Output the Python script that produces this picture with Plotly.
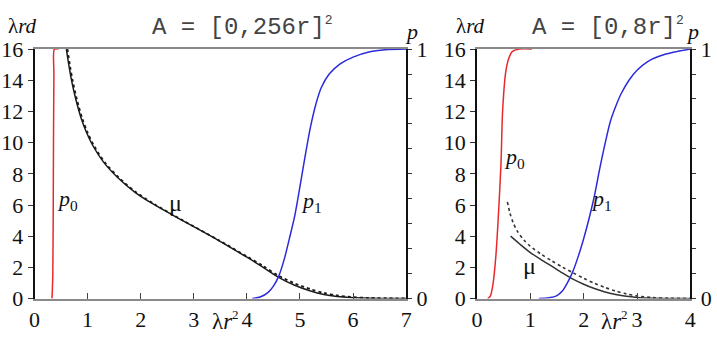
import plotly.graph_objects as go

# ---------------- data: left panel, A = [0,256r]^2 ----------------
L_p0_x = [0.33, 0.345, 0.355, 0.365, 0.375, 0.45]
L_p0_y = [0.0, 0.1, 0.5, 0.9, 1.0, 1.0]

L_p1_x = [4.1, 4.25, 4.4, 4.5, 4.6, 4.7, 4.8, 4.9, 5.0, 5.1, 5.2, 5.3, 5.4, 5.55, 5.75, 6.0, 6.3, 6.6, 7.0]
L_p1_y = [0.0, 0.006, 0.025, 0.05, 0.09, 0.155, 0.24, 0.33, 0.45, 0.575, 0.69, 0.78, 0.845, 0.9, 0.94, 0.968, 0.988, 0.997, 1.0]

L_mu_x = [0.60, 0.65, 0.70, 0.78, 0.88, 0.98, 1.1, 1.3, 1.57, 1.9, 2.24, 2.8, 3.47, 4.0, 4.3, 4.59, 4.9, 5.2, 5.45, 5.7, 5.95, 6.3, 7.0]
L_mu_y = [16.0, 14.9, 13.95, 12.75, 11.55, 10.65, 9.8, 8.75, 7.75, 6.8, 6.05, 4.98, 3.72, 2.65, 2.02, 1.38, 0.85, 0.48, 0.26, 0.13, 0.06, 0.02, 0.0]

L_mud_x = [0.62, 0.67, 0.72, 0.80, 0.90, 1.0, 1.12, 1.32, 1.59, 1.92, 2.26, 2.8, 3.47, 4.0, 4.3, 4.59, 4.9, 5.2, 5.45, 5.7, 5.95, 6.3, 7.0]
L_mud_y = [16.0, 14.9, 13.95, 12.75, 11.55, 10.65, 9.8, 8.75, 7.75, 6.8, 6.05, 5.0, 3.74, 2.7, 2.1, 1.48, 0.97, 0.6, 0.36, 0.2, 0.1, 0.04, 0.01]

# ---------------- data: right panel, A = [0,8r]^2 ----------------
R_p0_x = [0.2, 0.25, 0.3, 0.35, 0.39, 0.45, 0.48, 0.54, 0.6, 0.66, 0.79, 1.03]
R_p0_y = [0.0, 0.01, 0.058, 0.16, 0.29, 0.54, 0.75, 0.91, 0.965, 0.99, 1.0, 1.0]

R_p1_x = [1.16, 1.35, 1.5, 1.6, 1.7, 1.8, 1.9, 2.0, 2.1, 2.2, 2.3, 2.4, 2.5, 2.6, 2.7, 2.85, 3.0, 3.2, 3.4, 3.7, 4.0]
R_p1_y = [0.0, 0.003, 0.012, 0.03, 0.065, 0.11, 0.17, 0.24, 0.32, 0.41, 0.52, 0.62, 0.71, 0.77, 0.82, 0.875, 0.915, 0.95, 0.97, 0.988, 1.0]

R_mu_x = [0.63, 0.8, 1.0, 1.2, 1.4, 1.6, 1.8, 2.0, 2.2, 2.4, 2.6, 2.8, 3.0, 3.3, 3.6, 4.0]
R_mu_y = [4.0, 3.5, 2.95, 2.5, 2.08, 1.65, 1.25, 0.92, 0.64, 0.42, 0.26, 0.14, 0.07, 0.02, 0.005, 0.0]

R_mud_x = [0.57, 0.62, 0.68, 0.76, 0.88, 1.0, 1.2, 1.4, 1.6, 1.8, 2.0, 2.2, 2.4, 2.6, 2.8, 3.0, 3.3, 3.6, 4.0]
R_mud_y = [6.2, 5.45, 4.85, 4.3, 3.75, 3.35, 2.85, 2.42, 2.02, 1.65, 1.3, 0.98, 0.71, 0.48, 0.3, 0.17, 0.06, 0.02, 0.005]

L_xticks = [0, 1, 2, 3, 4, 5, 6, 7]
R_xticks = [0, 1, 2, 3, 4]
Y_ticks = [0, 2, 4, 6, 8, 10, 12, 14, 16]
P_ticks = [i / 10 for i in range(11)]
P_text = ["0"] + [""] * 9 + ["1"]

RED = "#e8282a"
BLUE = "#2b2bdc"
BLACK = "#1a1a1a"
SERIF = "Liberation Serif"
MONO = "Liberation Mono"

W, H = 717, 344
def px(x):
    return x / W
def py(y):
    return 1 - y / H

fig = go.Figure()

def line(x, y, xa, ya, color, dash="solid", width=1.5):
    fig.add_trace(go.Scatter(x=x, y=y, xaxis=xa, yaxis=ya, mode="lines",
                             line=dict(color=color, width=width, dash=dash, shape="spline", smoothing=0.8),
                             showlegend=False, hoverinfo="skip", cliponaxis=False))

# left panel
line(L_mud_x, L_mud_y, "x", "y", BLACK, dash="dot", width=1.8)
line(L_mu_x, L_mu_y, "x", "y", BLACK)
line(L_p0_x, L_p0_y, "x", "y2", RED)
line(L_p1_x, L_p1_y, "x", "y2", BLUE)
# right panel
line(R_mud_x, R_mud_y, "x2", "y3", "#333333", dash="dot", width=1.6)
line(R_mu_x, R_mu_y, "x2", "y3", "#333333")
line(R_p0_x, R_p0_y, "x2", "y4", RED)
line(R_p1_x, R_p1_y, "x2", "y4", BLUE)

tickfont = dict(family=SERIF, size=22, color="#111")
xcommon = dict(showgrid=False, zeroline=False, showline=True, linecolor="#8a8a8a", linewidth=2,
               mirror=True, ticks="inside", ticklen=6, tickcolor="#444", tickwidth=1.3,
               tickfont=tickfont, fixedrange=True)
ycommon = dict(showgrid=False, zeroline=False, showline=True, linecolor="#111", linewidth=1.8,
               ticks="outside", ticklen=5, tickcolor="#333", tickwidth=1.3, tickfont=tickfont,
               fixedrange=True)
y2common = dict(ycommon)
y2common["ticklen"] = 4

L_dom = [px(29), px(407)]
R_dom = [px(479), px(696)]
Y_dom = [py(309), py(40)]

fig.update_layout(
    width=W, height=H, margin=dict(l=0, r=0, t=0, b=0),
    paper_bgcolor="white", plot_bgcolor="white", showlegend=False,
    font=dict(family=SERIF),
    xaxis=dict(domain=L_dom, range=[0, 7], tickvals=L_xticks, anchor="y", **xcommon),
    yaxis=dict(domain=Y_dom, range=[0, 16], tickvals=Y_ticks, anchor="x", **ycommon),
    yaxis2=dict(range=[0, 1], overlaying="y", side="right", anchor="x", tickvals=P_ticks,
                ticktext=P_text, **y2common),
    xaxis2=dict(domain=R_dom, range=[0, 4], tickvals=R_xticks, anchor="y3", **xcommon),
    yaxis3=dict(domain=Y_dom, range=[0, 16], tickvals=Y_ticks, anchor="x2", **ycommon),
    yaxis4=dict(range=[0, 1], overlaying="y3", side="right", anchor="x2", tickvals=P_ticks,
                ticktext=P_text, **y2common),
)

def ann(text, x, y, size=22, family=SERIF, xref="paper", yref="paper", color="#111"):
    fig.add_annotation(text=text, x=x, y=y, xref=xref, yref=yref, showarrow=False,
                       xanchor="center", yanchor="middle", font=dict(family=family, size=size, color=color))

SUP2 = "<sup><span style='font-size:13px'>2</span></sup>"

# axis titles / headers
ann("λ<i>rd</i>", px(17), py(15), size=21)
ann("λ<i>rd</i>", px(472), py(15), size=21)
ann("<i>p</i>", px(412), py(21))
ann("<i>p</i>", px(698), py(21))
ann("A = [0,256r]" + SUP2, px(241), py(16), size=24, family=MONO, color="#444")
ann("A = [0,8r]" + SUP2, px(612), py(16), size=24, family=MONO, color="#444")
ann("λ<i>r</i>" + SUP2, px(223), py(333), size=23)
ann("λ<i>r</i>" + SUP2, px(619), py(333), size=23)

# curve labels
ann("<i>p</i><sub>0</sub>", 0.63, 6.3, xref="x", yref="y")
ann("μ", 2.65, 6.1, size=24, xref="x", yref="y")
ann("<i>p</i><sub>1</sub>", 5.22, 6.2, xref="x", yref="y")
ann("<i>p</i><sub>0</sub>", 0.70, 9.0, xref="x2", yref="y3")
ann("<i>p</i><sub>1</sub>", 2.33, 6.3, xref="x2", yref="y3")
ann("μ", 0.98, 2.1, size=24, xref="x2", yref="y3")

fig.write_html("out.html")
